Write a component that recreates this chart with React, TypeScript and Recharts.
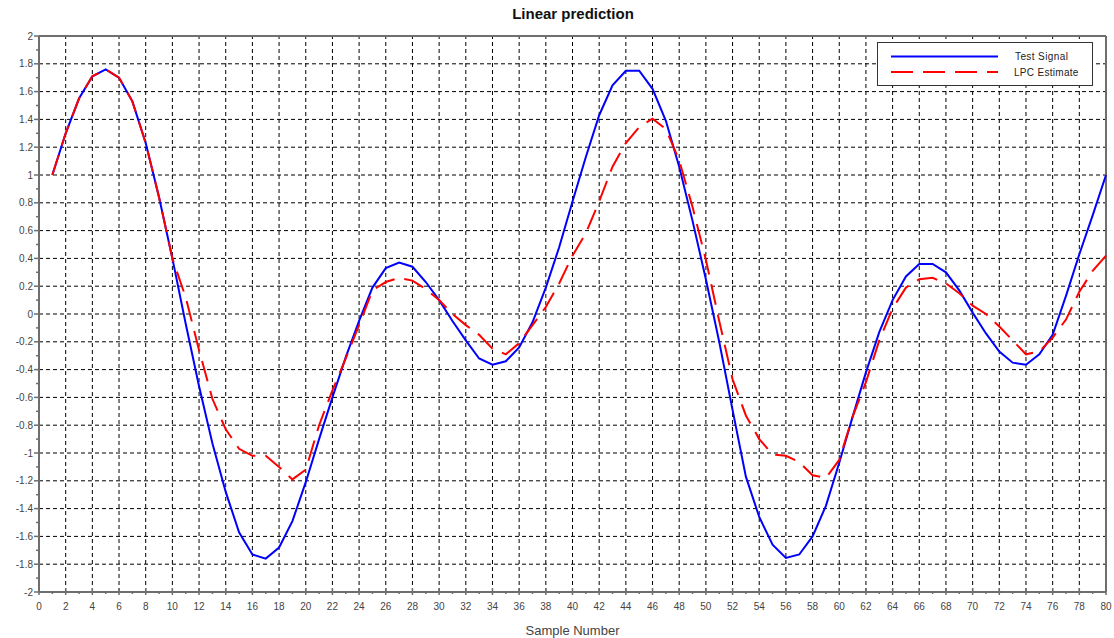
import { LineChart, Line, XAxis, YAxis, ReferenceLine, Legend } from 'recharts'

// values, one per sample (n = 1..80)
const testSignal = [
  1.0, 1.3, 1.55, 1.71, 1.76, 1.7, 1.53, 1.23, 0.84, 0.4,
  -0.07, -0.52, -0.93, -1.28, -1.57, -1.73, -1.76, -1.68, -1.49, -1.21,
  -0.9, -0.6, -0.31, -0.05, 0.19, 0.33, 0.37, 0.34, 0.23, 0.1,
  -0.05, -0.19, -0.32, -0.365, -0.34, -0.24, -0.06, 0.19, 0.48, 0.81,
  1.13, 1.43, 1.645, 1.75, 1.75, 1.62, 1.39, 1.06, 0.67, 0.25,
  -0.2, -0.69, -1.17, -1.46, -1.66, -1.755, -1.73, -1.6, -1.38, -1.07,
  -0.74, -0.42, -0.13, 0.1, 0.27, 0.36, 0.36, 0.3, 0.17, 0.01,
  -0.14, -0.27, -0.35, -0.365, -0.29, -0.15, 0.13, 0.43, 0.71, 1.0,
]

const lpcEstimate = [
  1.0, 1.3, 1.55, 1.71, 1.76, 1.7, 1.53, 1.23, 0.84, 0.4,
  0.12, -0.26, -0.61, -0.83, -0.97, -1.02, -1.02, -1.1, -1.19, -1.12,
  -0.8, -0.55, -0.32, -0.08, 0.17, 0.23, 0.26, 0.24, 0.18, 0.1,
  0.0, -0.08, -0.15, -0.25, -0.29, -0.21, -0.08, 0.05, 0.22, 0.42,
  0.58, 0.81, 1.06, 1.23, 1.345, 1.405, 1.33, 1.105, 0.77, 0.39,
  -0.05, -0.47, -0.73, -0.9, -1.01, -1.02, -1.065, -1.16, -1.18, -1.05,
  -0.74, -0.49, -0.19, 0.04, 0.19, 0.25, 0.26, 0.22, 0.15, 0.06,
  0.0, -0.09, -0.19, -0.29, -0.27, -0.17, -0.04, 0.16, 0.31, 0.42,
]

const sampleNumbers = testSignal.map((_, i) => i + 1)

// axis ticks: every integer on x (labels on even), every 0.1 on y (labels on 0.2)
const xTicks = Array.from({ length: 81 }, (_, i) => i)
const yTicks = Array.from({ length: 41 }, (_, i) => Math.round((i - 20)) / 10)
const gridX = xTicks.filter(v => v % 2 === 0 && v > 0 && v < 80)
const gridY = yTicks.filter(v => Math.round(v * 10) % 2 === 0 && Math.abs(v) < 2)

const data = sampleNumbers.map((n, i) => ({
  n,
  test: testSignal[i],
  lpc: lpcEstimate[i],
}))

const FONT = '"Liberation Sans", Arial, sans-serif'
const AXIS = '#6e6e6e'

const XTick = ({ x, y, payload }: any) => {
  const v = payload.value as number
  if (v % 2 !== 0) {
    return <line x1={x} x2={x} y1={y} y2={y + 2} stroke={AXIS} strokeWidth={1.5} />
  }
  return (
    <g>
      <line x1={x} x2={x} y1={y - 4} y2={y + 3} stroke={AXIS} strokeWidth={1.5} />
      <text x={x} y={y + 18} textAnchor="middle" fontSize={10} fill="#444" fontFamily={FONT}>
        {v}
      </text>
    </g>
  )
}

const YTick = ({ x, y, payload }: any) => {
  const v = payload.value as number
  const major = Math.round(v * 10) % 2 === 0
  if (!major) {
    return <line x1={x - 3} x2={x} y1={y} y2={y} stroke={AXIS} strokeWidth={1.5} />
  }
  return (
    <g>
      <line x1={x - 5} x2={x} y1={y} y2={y} stroke={AXIS} strokeWidth={1.5} />
      <text x={x - 6} y={y} dy="0.35em" textAnchor="end" fontSize={10} fill="#444" fontFamily={FONT}>
        {Number(v.toFixed(1)).toString()}
      </text>
    </g>
  )
}

const LegendBox = () => (
  <div
    style={{
      width: 214,
      height: 42,
      border: '1px solid #333',
      background: '#fff',
      fontFamily: FONT,
      fontSize: 10,
      color: '#222',
      position: 'relative',
    }}
  >
    <svg width={214} height={42} style={{ position: 'absolute', left: 0, top: 0 }}>
      <line x1={13} x2={120} y1={13.5} y2={13.5} stroke="#0000ff" strokeWidth={2} />
      <line x1={13} x2={120} y1={29} y2={29} stroke="#ff0000" strokeWidth={2} strokeDasharray="22 10" />
      <text x={137} y={13.5} dy="0.35em" fontSize={10} fill="#222" fontFamily={FONT} letterSpacing={0.4}>
        Test Signal
      </text>
      <text x={136} y={29} dy="0.35em" fontSize={10} fill="#222" fontFamily={FONT} letterSpacing={0.3}>
        LPC Estimate
      </text>
    </svg>
  </div>
)

export default function App() {
  return (
    <div style={{ position: 'absolute', left: 0, top: 0, width: 1114, height: 638, background: '#fff' }}>
      <div
        style={{
          position: 'absolute',
          left: 0,
          width: 1146,
          top: 5,
          textAlign: 'center',
          fontFamily: FONT,
          fontWeight: 'bold',
          fontSize: 15,
          color: '#111',
        }}
      >
        Linear prediction
      </div>
      <LineChart
        width={1114}
        height={638}
        data={data}
        margin={{ top: 36, right: 8, bottom: 0, left: 0 }}
      >
        <XAxis
          dataKey="n"
          type="number"
          domain={[0, 80]}
          ticks={xTicks}
          interval={0}
          tick={<XTick />}
          tickLine={false}
          tickSize={0}
          tickMargin={0}
          axisLine={{ stroke: AXIS, strokeWidth: 2 }}
          height={46}
          label={{ value: 'Sample Number', position: 'insideBottom', offset: 3, fill: '#444', fontSize: 13, fontFamily: FONT }}
        />
        <YAxis
          type="number"
          domain={[-2, 2]}
          ticks={yTicks}
          interval={0}
          tick={<YTick />}
          tickLine={false}
          tickSize={0}
          tickMargin={0}
          axisLine={{ stroke: AXIS, strokeWidth: 2 }}
          width={39}
        />
        {gridX.map(v => (
          <ReferenceLine key={'gx' + v} x={v} stroke="#000" strokeDasharray="4 3" strokeWidth={1} />
        ))}
        {gridY.map(v => (
          <ReferenceLine key={'gy' + v} y={v} stroke="#000" strokeDasharray="4 3" strokeWidth={1} />
        ))}
        <ReferenceLine y={2} stroke={AXIS} strokeWidth={2} />
        <ReferenceLine x={80} stroke={AXIS} strokeWidth={2} />
        <Legend
          layout="horizontal"
          verticalAlign="middle"
          align="center"
          content={<LegendBox />}
          wrapperStyle={{ left: 877, top: 42, width: 216, height: 44 }}
        />
        <Line
          type="linear"
          dataKey="test"
          name="Test Signal"
          stroke="#0000ff"
          strokeWidth={2}
          dot={false}
          isAnimationActive={false}
        />
        <Line
          type="linear"
          dataKey="lpc"
          name="LPC Estimate"
          stroke="#ff0000"
          strokeWidth={2}
          strokeDasharray="21 10"
          dot={false}
          isAnimationActive={false}
        />
      </LineChart>
    </div>
  )
}
